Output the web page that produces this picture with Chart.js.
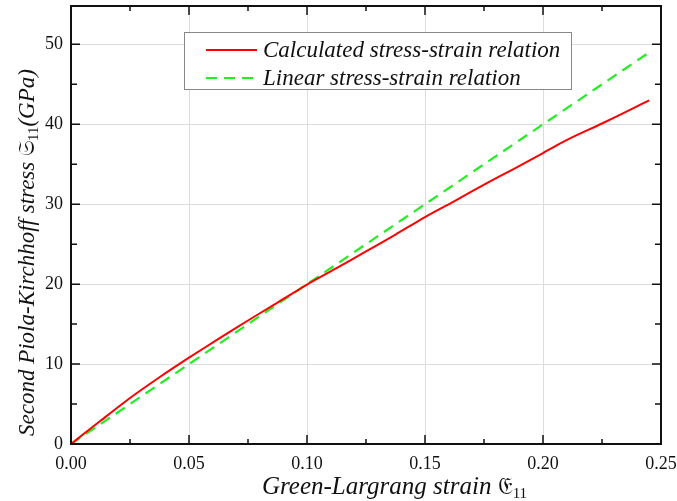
<!DOCTYPE html>
<html>
<head>
<meta charset="utf-8">
<script src="https://cdn.jsdelivr.net/npm/chart.js@4.4.1/dist/chart.umd.min.js"></script>
<style>
  html, body { margin: 0; padding: 0; background: #fff; }
  #wrap { width: 677px; height: 501px; }
</style>
</head>
<body>
<div id="wrap"><canvas id="stressChart" width="677" height="501"></canvas></div>
<script>
// values
const strainCalc = [0, 0.006, 0.0125, 0.025, 0.0375, 0.05, 0.0625, 0.075, 0.0875, 0.1, 0.1125, 0.125, 0.1375, 0.15, 0.1625, 0.176, 0.1875, 0.2, 0.206, 0.2125, 0.225, 0.2375, 0.245];
const stressCalc = [0, 1.4, 2.9, 5.75, 8.35, 10.8, 13.15, 15.45, 17.7, 19.95, 22.0, 24.1, 26.2, 28.4, 30.4, 32.6, 34.4, 36.4, 37.4, 38.4, 40.1, 41.9, 43.0];
const strainLinear = [0, 0.244];
const stressLinear = [0, 48.8];
const xTickValues = [0, 0.05, 0.10, 0.15, 0.20, 0.25];
const yTickValues = [0, 10, 20, 30, 40, 50];
const seriesNames = ['Calculated stress-strain relation', 'Linear stress-strain relation'];

const serif = '"Liberation Serif", "Times New Roman", serif';
const red = '#ff0000';
const green = '#22ee22';

function toPoints(xs, ys) {
  return xs.map((x, i) => ({ x: x, y: ys[i] }));
}

// inward ticks on all four sides + frame
const frameTicks = {
  id: 'frameTicks',
  afterDatasetsDraw(chart) {
    const ctx = chart.ctx;
    const a = chart.chartArea;
    const xs = chart.scales.x, ys = chart.scales.y;
    ctx.save();
    ctx.strokeStyle = '#111';
    ctx.lineWidth = 2;
    ctx.strokeRect(a.left, a.top, a.right - a.left, a.bottom - a.top);
    ctx.lineWidth = 1.5;
    ctx.beginPath();
    for (let i = 0; i < xTickValues.length; i++) {
      const v = xTickValues[i];
      const px = xs.getPixelForValue(v);
      ctx.moveTo(px, a.bottom); ctx.lineTo(px, a.bottom - 9);
      ctx.moveTo(px, a.top); ctx.lineTo(px, a.top + 9);
      if (i < xTickValues.length - 1) {
        const m = xs.getPixelForValue((v + xTickValues[i + 1]) / 2);
        ctx.moveTo(m, a.bottom); ctx.lineTo(m, a.bottom - 5);
        ctx.moveTo(m, a.top); ctx.lineTo(m, a.top + 5);
      }
    }
    for (let i = 0; i < yTickValues.length; i++) {
      const v = yTickValues[i];
      const py = ys.getPixelForValue(v);
      ctx.moveTo(a.left, py); ctx.lineTo(a.left + 9, py);
      ctx.moveTo(a.right, py); ctx.lineTo(a.right - 9, py);
      const m = ys.getPixelForValue(v + 5);
      if (m > a.top + 2) {
        ctx.moveTo(a.left, m); ctx.lineTo(a.left + 6, m);
        ctx.moveTo(a.right, m); ctx.lineTo(a.right - 6, m);
      }
    }
    ctx.stroke();
    ctx.restore();
  }
};

// axis titles with the subscripted symbols
function drawPieces(ctx, pieces) {
  let x = 0;
  pieces.forEach(p => {
    ctx.font = p.font;
    ctx.fillText(p.text, x, p.dy || 0);
    x += ctx.measureText(p.text).width;
  });
}
const axisTitles = {
  id: 'axisTitles',
  afterDraw(chart) {
    const ctx = chart.ctx;
    const sub = '15px ' + serif;
    ctx.save();
    ctx.fillStyle = '#111';
    ctx.textBaseline = 'alphabetic';
    ctx.save();
    ctx.translate(262, 494);
    drawPieces(ctx, [
      { text: 'Green-Largrang strain ', font: 'italic 25px ' + serif },
      { text: '𝔈', font: '24px ' + serif },
      { text: '11', font: sub, dy: 4 }
    ]);
    ctx.restore();
    ctx.save();
    ctx.translate(34, 436);
    ctx.rotate(-Math.PI / 2);
    drawPieces(ctx, [
      { text: 'Second Piola-Kirchhoff stress ', font: 'italic 23px ' + serif },
      { text: '𝔖', font: '22px ' + serif },
      { text: '11', font: sub, dy: 4 },
      { text: '(GPa)', font: 'italic 23px ' + serif }
    ]);
    ctx.restore();
    ctx.restore();
  }
};

// boxed legend in the upper middle of the plot
const boxLegend = {
  id: 'boxLegend',
  afterDraw(chart) {
    const ctx = chart.ctx;
    ctx.save();
    ctx.fillStyle = '#fff';
    ctx.fillRect(184, 32, 387, 57);
    ctx.strokeStyle = '#888';
    ctx.lineWidth = 1;
    ctx.strokeRect(184.5, 32.5, 387, 57);
    const rows = [50, 78];
    ctx.lineWidth = 2;
    ctx.strokeStyle = red;
    ctx.beginPath(); ctx.moveTo(206, rows[0]); ctx.lineTo(257, rows[0]); ctx.stroke();
    ctx.strokeStyle = green;
    ctx.setLineDash([11, 7]);
    ctx.beginPath(); ctx.moveTo(206, rows[1]); ctx.lineTo(257, rows[1]); ctx.stroke();
    ctx.setLineDash([]);
    ctx.fillStyle = '#111';
    ctx.font = 'italic 23px ' + serif;
    ctx.textBaseline = 'middle';
    ctx.fillText(seriesNames[0], 263, rows[0] + 1);
    ctx.fillText(seriesNames[1], 263, rows[1] + 1);
    ctx.restore();
  }
};

new Chart(document.getElementById('stressChart'), {
  type: 'scatter',
  data: {
    datasets: [{
      label: seriesNames[0],
      data: toPoints(strainCalc, stressCalc),
      showLine: true,
      borderColor: red,
      borderWidth: 2,
      pointRadius: 0,
      tension: 0.2
    }, {
      label: seriesNames[1],
      data: toPoints(strainLinear, stressLinear),
      showLine: true,
      borderColor: green,
      borderWidth: 2.2,
      borderDash: [11, 7],
      pointRadius: 0
    }]
  },
  options: {
    responsive: false,
    animation: false,
    layout: { padding: { left: 0, top: 6, right: 16, bottom: 0 } },
    plugins: {
      legend: { display: false },
      tooltip: { enabled: false }
    },
    scales: {
      x: {
        type: 'linear',
        min: 0,
        max: 0.25,
        afterFit: s => { s.height = 57; s.paddingLeft = 0; s.paddingRight = 0; },
        afterBuildTicks: s => { s.ticks = xTickValues.map(v => ({ value: v })); },
        grid: { color: '#dddddd', drawTicks: false },
        border: { display: false },
        ticks: {
          padding: 9,
          color: '#111',
          font: { family: serif, size: 18 },
          callback: v => v.toFixed(2)
        },
        title: { display: false }
      },
      y: {
        type: 'linear',
        min: 0,
        max: 54.8,
        afterFit: s => { s.width = 71; s.paddingTop = 0; s.paddingBottom = 0; },
        afterBuildTicks: s => { s.ticks = yTickValues.map(v => ({ value: v })); },
        grid: { color: '#dddddd', drawTicks: false },
        border: { display: false },
        ticks: {
          padding: 8,
          color: '#111',
          font: { family: serif, size: 18 },
          callback: v => String(v)
        },
        title: { display: false }
      }
    }
  },
  plugins: [frameTicks, boxLegend, axisTitles]
});
</script>
</body>
</html>
